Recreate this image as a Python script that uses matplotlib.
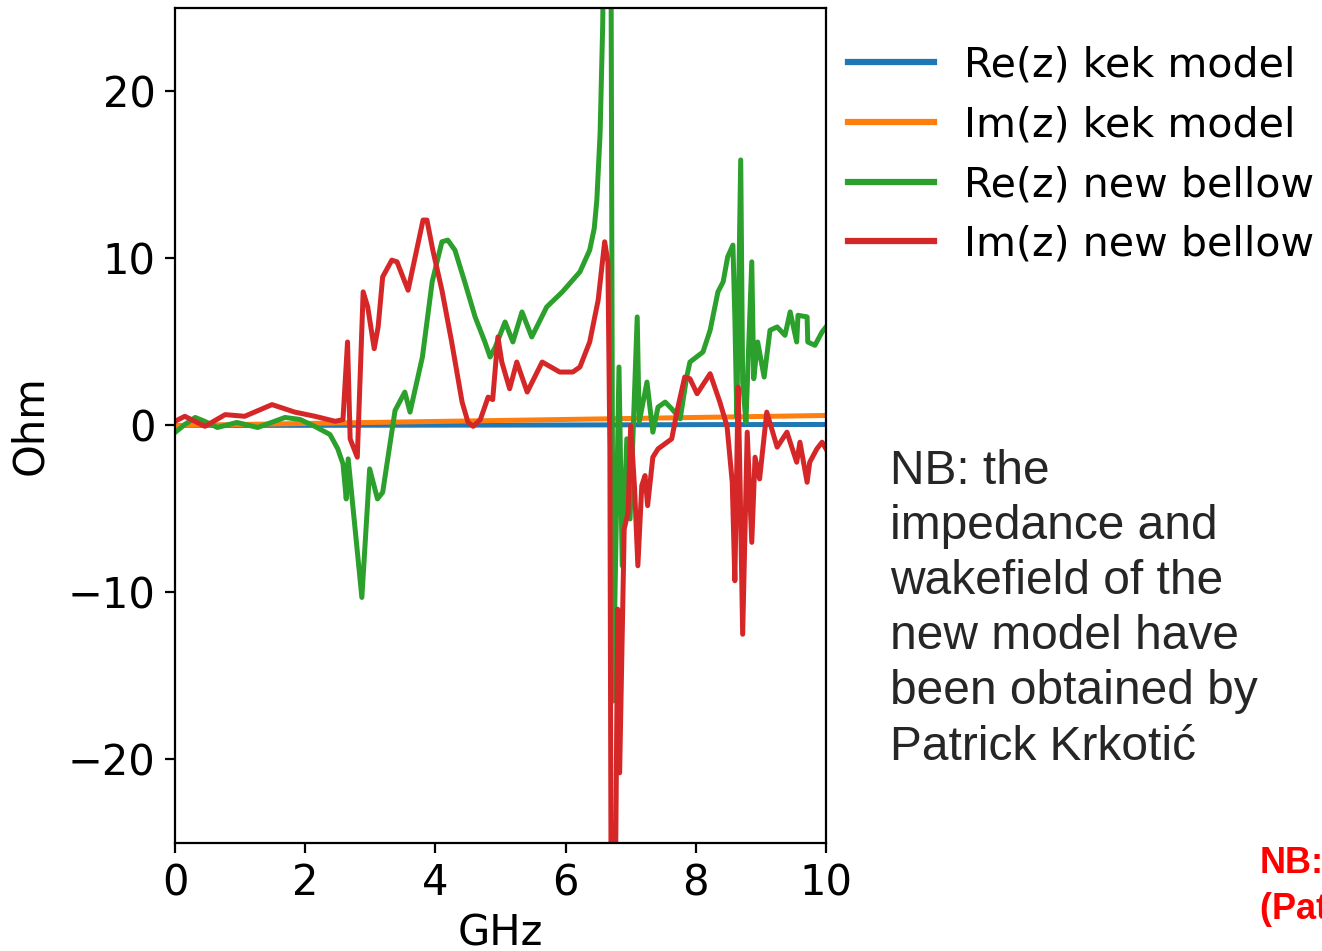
import numpy as np
import matplotlib.pyplot as plt

# frequency grid and values (GHz, Ohm)
f_kek = [0, 2, 4, 6, 8, 10]
re_kek = [0.0, 0.01, 0.02, 0.03, 0.05, 0.06]
im_kek = [0.0, 0.12, 0.24, 0.36, 0.48, 0.6]

f_re_new = [0.00, 0.15, 0.31, 0.46, 0.65, 0.95, 1.27, 1.69, 1.92, 2.15, 2.38, 2.50,
            2.58, 2.63, 2.66, 2.87, 2.99, 3.11, 3.19, 3.38, 3.53, 3.61, 3.80, 3.95,
            4.10, 4.19, 4.30, 4.45, 4.61, 4.76, 4.84, 4.92, 5.07, 5.19, 5.33, 5.48,
            5.71, 5.95, 6.22, 6.37, 6.44, 6.48, 6.53, 6.57, 6.60, 6.64, 6.70, 6.73,
            6.82, 6.87, 6.94, 6.99, 7.10, 7.13, 7.25, 7.34, 7.42, 7.53, 7.63, 7.76,
            7.86, 7.91, 8.11, 8.22, 8.34, 8.42, 8.49, 8.57, 8.60, 8.63, 8.69, 8.72,
            8.77, 8.86, 8.89, 8.95, 9.05, 9.14, 9.25, 9.37, 9.45, 9.55, 9.57, 9.71,
            9.72, 9.83, 9.94, 10.0]
re_new = [-0.42, 0.06, 0.48, 0.24, -0.12, 0.18, -0.12, 0.48, 0.36, -0.06, -0.54, -1.4,
          -2.3, -4.4, -2.0, -10.3, -2.6, -4.4, -4.0, 0.9, 2.0, 0.8, 4.1, 8.6,
          11.0, 11.1, 10.5, 8.6, 6.5, 5.0, 4.1, 4.7, 6.2, 5.0, 6.8, 5.3,
          7.1, 8.0, 9.2, 10.5, 11.8, 13.5, 17.5, 24.0, 35.0, 80.0, 25.0, -16.5,
          3.5, -8.4, -0.8, -5.6, 6.5, 0.2, 2.6, -0.4, 1.1, 1.4, 1.0, 0.4,
          2.9, 3.8, 4.4, 5.7, 8.0, 8.6, 10.1, 10.8, 6.5, 0.5, 15.9, 2.6,
          0.2, 9.8, 2.8, 5.0, 2.9, 5.7, 5.9, 5.4, 6.8, 5.0, 6.6, 6.5,
          5.0, 4.8, 5.6, 5.9]

f_im_new = [0.00, 0.15, 0.46, 0.77, 1.07, 1.49, 1.84, 2.15, 2.46, 2.58, 2.65, 2.69,
            2.80, 2.89, 2.96, 3.06, 3.12, 3.19, 3.33, 3.41, 3.50, 3.58, 3.64, 3.81,
            3.87, 3.96, 4.10, 4.25, 4.41, 4.50, 4.58, 4.69, 4.81, 4.88, 4.96, 5.02,
            5.14, 5.25, 5.41, 5.64, 5.91, 6.11, 6.22, 6.37, 6.50, 6.60, 6.65, 6.68,
            6.70, 6.76, 6.80, 6.83, 6.90, 6.96, 7.00, 7.06, 7.11, 7.17, 7.22, 7.26,
            7.34, 7.42, 7.56, 7.63, 7.72, 7.83, 7.91, 8.02, 8.22, 8.37, 8.48, 8.56,
            8.60, 8.65, 8.68, 8.72, 8.79, 8.86, 8.91, 8.98, 9.09, 9.25, 9.40, 9.55,
            9.60, 9.71, 9.75, 9.86, 9.94, 10.0]
im_new = [0.25, 0.55, -0.05, 0.65, 0.55, 1.25, 0.8, 0.55, 0.25, 0.35, 5.0, -0.8,
          -1.9, 8.0, 7.1, 4.6, 5.9, 8.9, 9.9, 9.8, 8.9, 8.1, 9.2, 12.3,
          12.3, 10.5, 8.1, 5.0, 1.4, 0.2, -0.05, 0.35, 1.7, 1.55, 5.3, 3.8,
          2.2, 3.8, 2.0, 3.8, 3.2, 3.2, 3.5, 5.0, 7.5, 11.0, 9.8, -1.4,
          -30.0, -30.0, -11.0, -20.8, -6.2, -5.2, 0.0, -3.8, -8.4, -3.6, -3.0, -4.8,
          -1.9, -1.4, -1.0, -0.8, 1.0, 2.9, 2.8, 1.9, 3.1, 1.4, -0.05, -3.4,
          -9.3, 2.3, -3.4, -12.5, -0.4, -7.0, -1.9, -3.2, 0.8, -1.3, -0.4, -2.2,
          -1.0, -3.4, -2.2, -1.4, -1.0, -1.4]

fs = 30
fig = plt.figure(figsize=(13.22, 9.51), dpi=100)
ax = fig.add_axes([0.1324, 0.1136, 0.4924, 0.878])

ax.plot(f_kek, re_kek, color='tab:blue', lw=3.6, label="Re(z) kek model")
ax.plot(f_kek, im_kek, color='tab:orange', lw=3.6, label="Im(z) kek model")
ax.plot(f_re_new, re_new, color='tab:green', lw=3.6, label="Re(z) new bellow")
ax.plot(f_im_new, im_new, color='tab:red', lw=3.6, label="Im(z) new bellow")

ax.set_xlim(0, 10)
ax.set_ylim(-25, 25)
ax.set_xticks([0, 2, 4, 6, 8, 10])
ax.set_yticks([-20, -10, 0, 10, 20])
ax.tick_params(labelsize=fs, length=7, width=1.6, pad=7)
for s in ax.spines.values():
    s.set_linewidth(1.6)
ax.set_xlabel("GHz", fontsize=fs, labelpad=6)
ax.set_ylabel("Ohm", fontsize=fs, labelpad=12)

leg = ax.legend(loc='upper left', bbox_to_anchor=(0.6415, 0.952),
                bbox_transform=fig.transFigure, frameon=False, fontsize=29.6,
                handlelength=2.1, handletextpad=0.72, labelspacing=0.48,
                borderpad=0, borderaxespad=0)
for h in leg.get_lines():
    h.set_linewidth(4.5)

fig.text(0.673, 0.528,
         "NB: the\nimpedance and\nwakefield of the\nnew model have\nbeen obtained by\nPatrick Krkotić",
         family='Liberation Sans', fontsize=34.5, color='#262626',
         va='top', ha='left', linespacing=1.29)

fig.text(0.953, 0.110, "NB:\n(Patrick Krkotić)", family='Liberation Sans',
         fontweight='bold', fontsize=26, color='red', va='top', ha='left',
         linespacing=1.4)

plt.savefig("out.png", dpi=100)
